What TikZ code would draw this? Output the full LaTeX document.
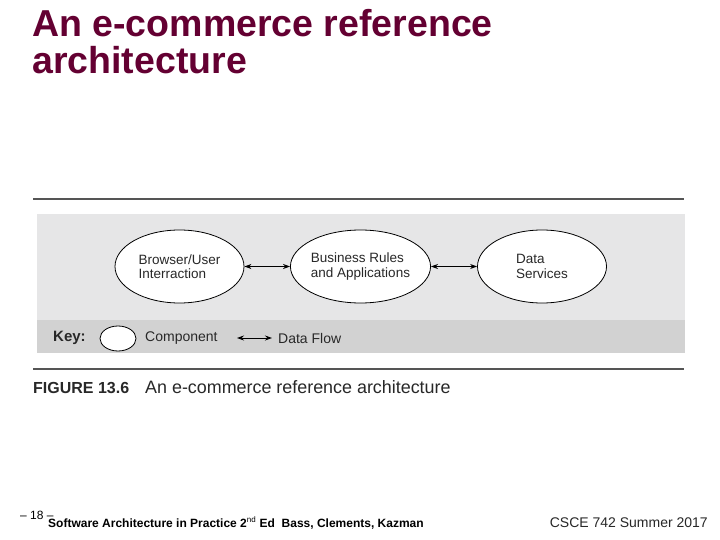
\documentclass[tikz,border=0pt]{standalone}
\usepackage{fontspec}
\setmainfont{Liberation Sans}
\usetikzlibrary{shapes.geometric,arrows.meta}
\definecolor{titlecol}{RGB}{100,0,50}
\definecolor{panel}{RGB}{230,230,231}
\definecolor{keyband}{RGB}{210,210,210}
\definecolor{rulecol}{RGB}{85,85,85}
\definecolor{figtext}{RGB}{40,40,40}
\tikzset{
  comp/.style={ellipse,draw=black,line width=0.8pt,fill=white,minimum width=129pt,minimum height=73pt,inner sep=0pt,align=left,text=figtext,font=\fontsize{13.5}{14.5}\selectfont},
  flow/.style={{Stealth[length=7pt,width=5pt]}-{Stealth[length=7pt,width=5pt]},line width=1.1pt,black},
  figrule/.style={draw=rulecol,line width=1.3pt},
  keytext/.style={anchor=west,inner sep=0pt,text=figtext,font=\fontsize{14}{16}\selectfont}
}
\begin{document}
\begin{tikzpicture}[x=1pt,y=-1pt]
\useasboundingbox[fill=white] (0,0) rectangle (720,540);
% title
\node[anchor=base west,inner sep=0pt,text=titlecol,font=\fontsize{37.5}{40}\selectfont\bfseries] (t1) at (32,37) {An e-commerce reference};
\node[anchor=base west,inner sep=0pt,text=titlecol,font=\fontsize{37.5}{40}\selectfont\bfseries] (t2) at (32,74) {architecture};
% figure
\draw[figrule] (33,199) -- (684,199);
\fill[panel] (37,214) rectangle (685,320);
\fill[keyband] (37,320) rectangle (685,353);
\draw[figrule] (33,369) -- (684,369);
\node[comp] (bui) at (179.5,266.5) {Browser/User\\Interraction};
\node[comp] (bra) at (360.5,266.5) {Business Rules\\and Applications};
\node[comp] (ds) at (542,266.5) {Data\\Services};
\draw[flow] (bui) -- (bra);
\draw[flow] (bra) -- (ds);
% key
\node[keytext,font=\fontsize{15}{17}\selectfont\bfseries] (key) at (53,338) {Key:};
\node[ellipse,draw=black,line width=0.8pt,fill=white,minimum width=36pt,minimum height=25pt,inner sep=0pt] (kc) at (118,338.5) {};
\node[keytext] (kcomp) at (145,338) {Component};
\coordinate (ka) at (237,338);
\coordinate (kb) at (272,338);
\draw[flow,line width=0.9pt] (ka) -- (kb);
\node[keytext] (kflow) at (278,338) {Data Flow};
% caption
\node[anchor=base west,inner sep=0pt,text=figtext,font=\fontsize{16}{18}\selectfont\bfseries] (fig) at (33,393) {FIGURE 13.6};
\node[anchor=base west,inner sep=0pt,text=figtext,font=\fontsize{17.9}{20}\selectfont] (cap) at (145,393) {An e-commerce reference architecture};
% footer
\node[anchor=base west,inner sep=0pt,font=\fontsize{12}{14}\selectfont] (pg) at (20,519) {– 18 –};
\node[anchor=base west,inner sep=0pt,font=\fontsize{12}{14}\selectfont\bfseries] (src) at (48,527) {Software Architecture in Practice 2{\mdseries\textsuperscript{nd}} Ed\ \ Bass, Clements, Kazman};
\node[anchor=base east,inner sep=0pt,text=figtext,font=\fontsize{14}{16}\selectfont] (course) at (708,527) {CSCE 742 Summer 2017};
\end{tikzpicture}
\end{document}
